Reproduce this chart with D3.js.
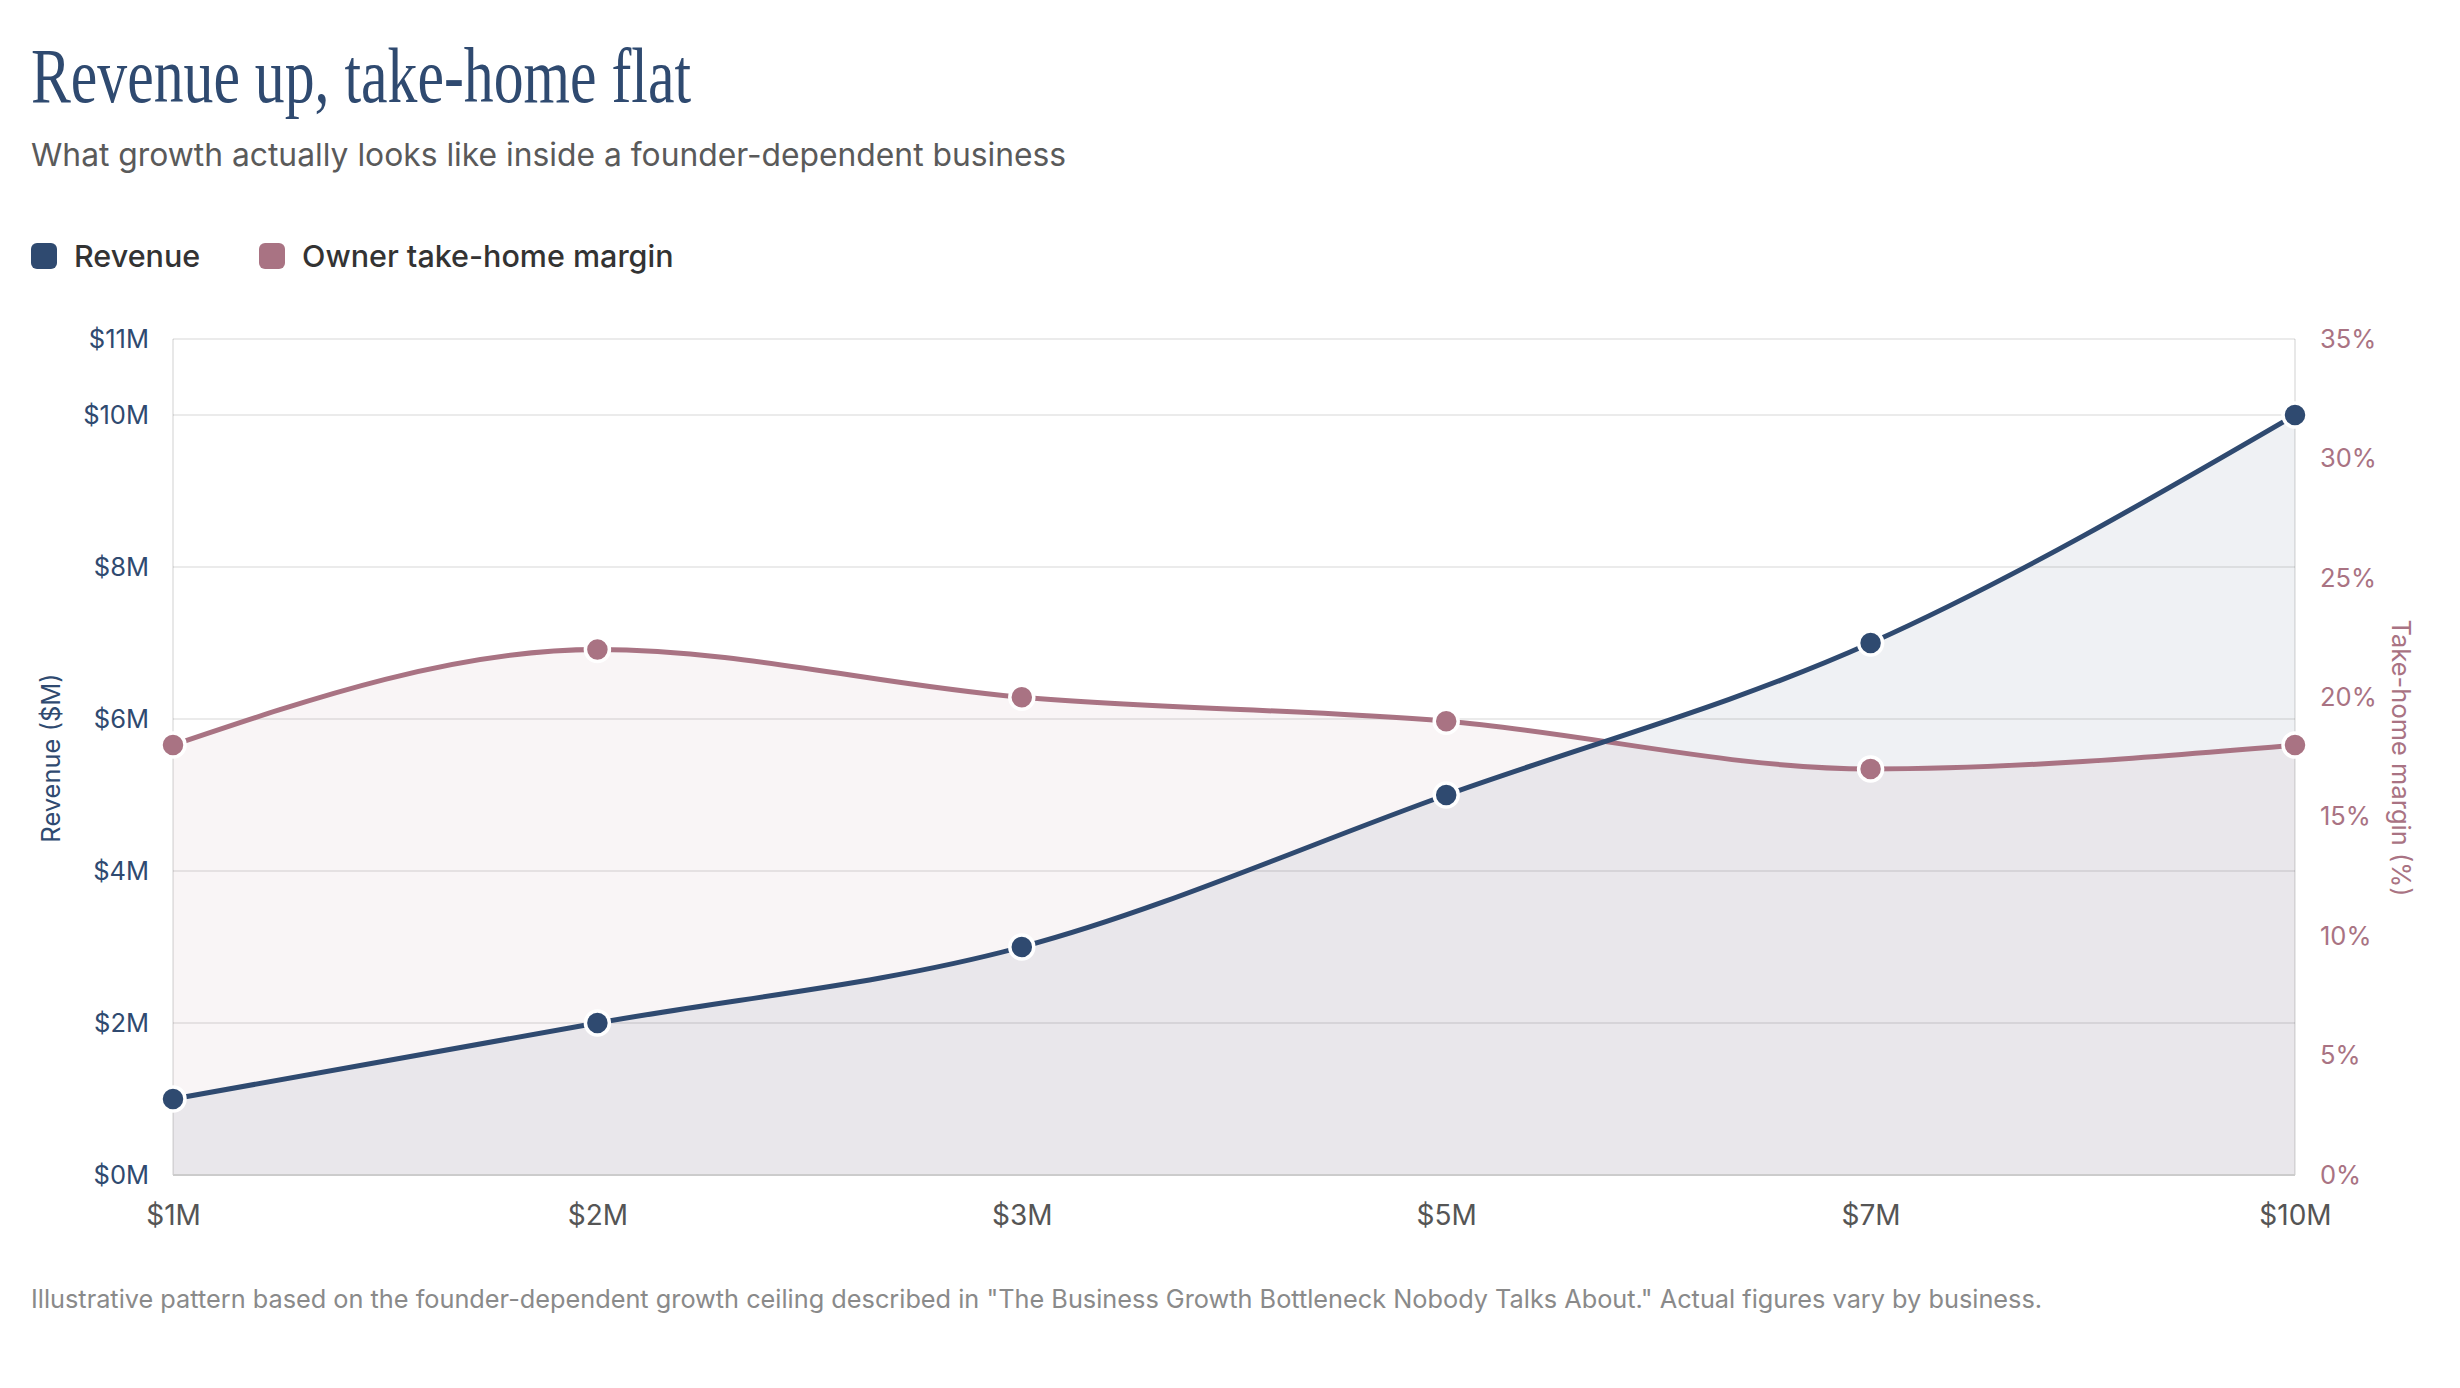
<!DOCTYPE html>
<html>
<head>
<meta charset="utf-8">
<script src="https://cdn.jsdelivr.net/npm/d3@7"></script>
<style>
  body { margin: 0; background: #fff; }
  svg { display: block; }
</style>
</head>
<body>
<script>
// chart data
var stages = ['$1M', '$2M', '$3M', '$5M', '$7M', '$10M'];
var revenue = [1, 2, 3, 5, 7, 10];          // $M
var margin = [18, 22, 20, 19, 17, 18];      // %
var revenueTicks = [0, 2, 4, 6, 8, 10, 11];
var marginTicks = [0, 5, 10, 15, 20, 25, 30, 35];

var NAVY = '#2f4a70', MAUVE = '#a97383';
var W = 2460, H = 1388;
var plot = { left: 173, right: 2295, top: 339, bottom: 1175 };

var svg = d3.select('body').append('svg')
    .attr('width', W).attr('height', H);

// title block
svg.append('text')
    .attr('x', 31).attr('y', 102)
    .attr('textLength', 660).attr('lengthAdjust', 'spacingAndGlyphs')
    .style('font-family', '"Liberation Serif", serif')
    .style('font-size', '78px')
    .style('fill', '#2f4a70')
    .text('Revenue up, take-home flat');

svg.append('text')
    .attr('x', 31).attr('y', 166)
    .style('font-family', 'Inter, sans-serif')
    .style('font-size', '31.8px')
    .style('fill', '#5a5a5a')
    .text('What growth actually looks like inside a founder-dependent business');

// legend
var legend = [{ name: 'Revenue', color: NAVY, x: 31 }, { name: 'Owner take-home margin', color: MAUVE, x: 259 }];
var lg = svg.selectAll('g.legend').data(legend).enter()
    .append('g').attr('class', 'legend')
    .attr('transform', function(d) { return 'translate(' + d.x + ',243)'; });
lg.append('rect')
    .attr('width', 26).attr('height', 26).attr('rx', 6)
    .style('fill', function(d) { return d.color; });
lg.append('text')
    .attr('x', 43).attr('y', 24)
    .style('font-family', 'Inter, sans-serif')
    .style('font-size', '30.5px').style('font-weight', 500)
    .style('fill', '#333')
    .text(function(d) { return d.name; });

// scales
var x = d3.scalePoint().domain(stages).range([plot.left, plot.right]);
var yRev = d3.scaleLinear().domain([0, 11]).range([plot.bottom, plot.top]);
var yMar = d3.scaleLinear().domain([0, 35]).range([plot.bottom, plot.top]);

// areas
var revArea = d3.area()
    .x(function(d, i) { return x(stages[i]); })
    .y0(plot.bottom).y1(function(d) { return yRev(d); })
    .curve(d3.curveMonotoneX);
var marArea = d3.area()
    .x(function(d, i) { return x(stages[i]); })
    .y0(plot.bottom).y1(function(d) { return yMar(d); })
    .curve(d3.curveMonotoneX);

svg.append('path').datum(margin).attr('d', marArea)
    .style('fill', MAUVE).style('fill-opacity', 0.07);
svg.append('path').datum(revenue).attr('d', revArea)
    .style('fill', NAVY).style('fill-opacity', 0.08);

// grid
svg.append('g').selectAll('line').data(revenueTicks).enter()
    .append('line')
    .attr('x1', plot.left).attr('x2', plot.right)
    .attr('y1', function(d) { return yRev(d); })
    .attr('y2', function(d) { return yRev(d); })
    .style('stroke', '#000').style('stroke-opacity', 0.08).style('stroke-width', 2);

svg.append('line')
    .attr('x1', plot.left).attr('x2', plot.left).attr('y1', plot.top).attr('y2', plot.bottom)
    .style('stroke', '#000').style('stroke-opacity', 0.09).style('stroke-width', 2);
svg.append('line')
    .attr('x1', plot.right).attr('x2', plot.right).attr('y1', plot.top).attr('y2', plot.bottom)
    .style('stroke', '#000').style('stroke-opacity', 0.09).style('stroke-width', 2);
svg.append('line')
    .attr('x1', plot.left).attr('x2', plot.right).attr('y1', plot.bottom).attr('y2', plot.bottom)
    .style('stroke', '#ccc').style('stroke-width', 2);

// axes
var leftAxis = svg.append('g')
    .attr('transform', 'translate(' + plot.left + ',0)')
    .call(d3.axisLeft(yRev).tickValues(revenueTicks).tickSize(0).tickPadding(24)
        .tickFormat(function(d) { return '$' + d + 'M'; }));
var rightAxis = svg.append('g')
    .attr('transform', 'translate(' + plot.right + ',0)')
    .call(d3.axisRight(yMar).tickValues(marginTicks).tickSize(0).tickPadding(25)
        .tickFormat(function(d) { return d + '%'; }));
var bottomAxis = svg.append('g')
    .attr('transform', 'translate(0,' + plot.bottom + ')')
    .call(d3.axisBottom(x).tickSize(0).tickPadding(30));

[leftAxis, rightAxis, bottomAxis].forEach(function(a) {
    a.select('.domain').remove();
    a.selectAll('text')
        .style('font-family', 'Inter, sans-serif')
        .style('font-size', '25.5px');
});
leftAxis.selectAll('text').style('fill', NAVY);
rightAxis.selectAll('text').style('fill', MAUVE);
bottomAxis.selectAll('text').style('fill', '#555').style('font-size', '28px');

// axis titles
svg.append('text')
    .attr('transform', 'translate(60,758) rotate(-90)')
    .attr('text-anchor', 'middle')
    .style('font-family', 'Inter, sans-serif').style('font-size', '25.5px')
    .style('fill', NAVY)
    .text('Revenue ($M)');
svg.append('text')
    .attr('transform', 'translate(2392,758) rotate(90)')
    .attr('text-anchor', 'middle')
    .style('font-family', 'Inter, sans-serif').style('font-size', '25.5px')
    .style('fill', MAUVE)
    .text('Take-home margin (%)');

// lines
var revLine = d3.line()
    .x(function(d, i) { return x(stages[i]); })
    .y(function(d) { return yRev(d); })
    .curve(d3.curveMonotoneX);
var marLine = d3.line()
    .x(function(d, i) { return x(stages[i]); })
    .y(function(d) { return yMar(d); })
    .curve(d3.curveMonotoneX);

svg.append('path').datum(margin).attr('d', marLine)
    .style('fill', 'none').style('stroke', MAUVE).style('stroke-width', 5);
svg.append('path').datum(revenue).attr('d', revLine)
    .style('fill', 'none').style('stroke', NAVY).style('stroke-width', 5);

// points
svg.append('g').selectAll('circle').data(margin).enter()
    .append('circle')
    .attr('cx', function(d, i) { return x(stages[i]); })
    .attr('cy', function(d) { return yMar(d); })
    .attr('r', 12)
    .style('fill', MAUVE).style('stroke', '#fff').style('stroke-width', 3.5);
svg.append('g').selectAll('circle').data(revenue).enter()
    .append('circle')
    .attr('cx', function(d, i) { return x(stages[i]); })
    .attr('cy', function(d) { return yRev(d); })
    .attr('r', 12)
    .style('fill', NAVY).style('stroke', '#fff').style('stroke-width', 3.5);

// footnote
svg.append('text')
    .attr('x', 31).attr('y', 1308)
    .style('font-family', 'Inter, sans-serif')
    .style('font-size', '25.3px')
    .style('fill', '#8a8a8a')
    .text('Illustrative pattern based on the founder-dependent growth ceiling described in "The Business Growth Bottleneck Nobody Talks About." Actual figures vary by business.');
</script>
</body>
</html>
